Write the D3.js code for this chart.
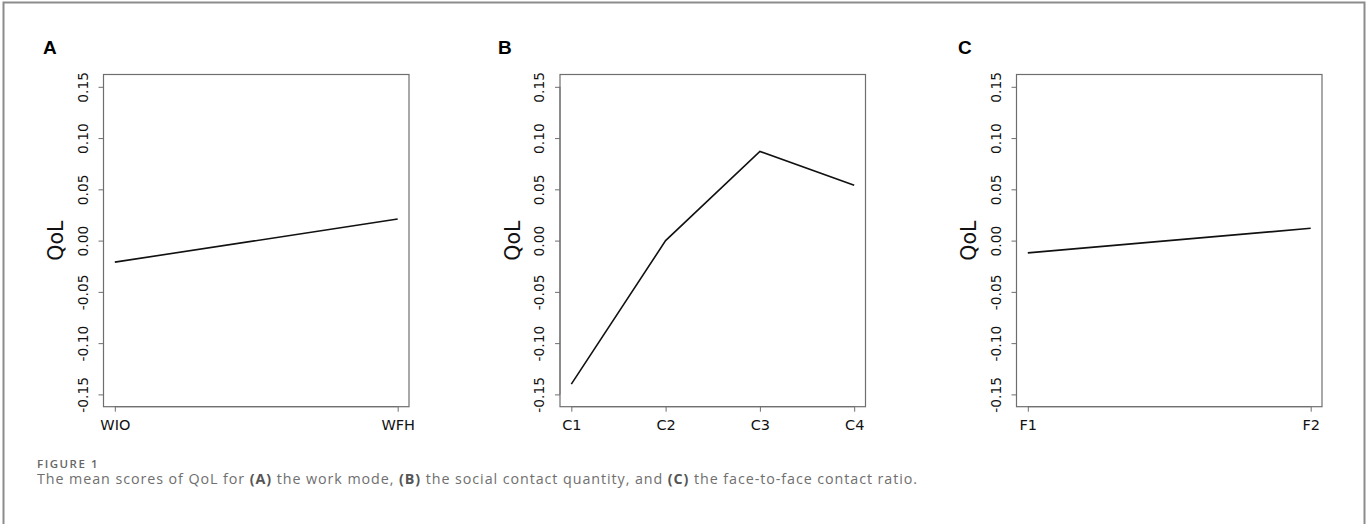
<!DOCTYPE html>
<html>
<head>
<meta charset="utf-8">
<script src="https://cdn.jsdelivr.net/npm/d3@7"></script>
<style>
  html, body { margin: 0; padding: 0; background: #fff; }
  svg { display: block; }
</style>
</head>
<body>
<div id="chart"></div>
<script>
// Chart values
const catsA = ["WIO", "WFH"];
const qolA = [-0.021, 0.021];

const catsB = ["C1", "C2", "C3", "C4"];
const qolB = [-0.140, 0.000, 0.087, 0.054];

const catsC = ["F1", "F2"];
const qolC = [-0.012, 0.012];

const yTicks = [-0.15, -0.10, -0.05, 0.00, 0.05, 0.10, 0.15];
const panelLetters = ["A", "B", "C"];

const svgWidth = 1367;
const svgHeight = 524;

const svg = d3
  .select("#chart")
  .append("svg")
  .attr("width", svgWidth)
  .attr("height", svgHeight);

// Outer frame (top, left, right only)
svg.append("path")
  .attr("d", `M3.5,${svgHeight} V2.5 H1364.5 V${svgHeight}`)
  .attr("fill", "none")
  .attr("stroke", "#8c8c8c")
  .attr("stroke-width", 2);

// plot boxes
const boxTop = 74.5;
const boxBottom = 406.7;
const boxWidth = 305.5;
const boxLefts = [103.5, 560, 1016.5];
const letterX = [43, 498, 958];

// R-style 4% extension on ylim c(-0.15, 0.15)
const yExt = 0.3 * 0.04;
const y = d3.scaleLinear()
  .domain([-0.15 - yExt, 0.15 + yExt])
  .range([boxBottom, boxTop]);

const panels = [
  { cats: catsA, vals: qolA },
  { cats: catsB, vals: qolB },
  { cats: catsC, vals: qolC },
];

// R prints a plain hyphen for negatives
const fmt = (d) => d.toFixed(2);

panels.forEach((p, i) => {
  const left = boxLefts[i];
  const n = p.cats.length;
  const ext = (n - 1) * 0.04;
  const x = d3.scaleLinear()
    .domain([1 - ext, n + ext])
    .range([left, left + boxWidth]);

  const g = svg.append("g");

  // panel letter
  svg.append("text")
    .attr("x", letterX[i])
    .attr("y", 54)
    .attr("font-family", "Liberation Sans, Arial, sans-serif")
    .attr("font-weight", "bold")
    .attr("font-size", 19)
    .attr("fill", "#000")
    .text(panelLetters[i]);

  // y axis
  const yAxis = d3.axisLeft(y)
    .tickValues(yTicks)
    .tickSize(5)
    .tickFormat(fmt);

  const yAxisG = g.append("g")
    .attr("transform", `translate(${left}, 0)`)
    .call(yAxis);

  yAxisG.select(".domain")
    .attr("d", `M0,${y(-0.15)}V${y(0.15)}`)
    .attr("stroke", "#6e6e6e");
  yAxisG.selectAll(".tick line").attr("stroke", "#6e6e6e");
  yAxisG.selectAll(".tick text")
    .attr("x", null)
    .attr("transform", "translate(-20.5, 0) rotate(-90)")
    .attr("text-anchor", "middle")
    .attr("dy", "0.36em")
    .attr("font-family", "DejaVu Sans, sans-serif")
    .attr("font-size", 13.8)
    .attr("fill", "#111");

  // x axis
  const xAxis = d3.axisBottom(x)
    .tickValues(d3.range(1, n + 1))
    .tickSize(5)
    .tickFormat((d) => p.cats[d - 1]);

  const xAxisG = g.append("g")
    .attr("transform", `translate(0, ${boxBottom})`)
    .call(xAxis);

  xAxisG.select(".domain")
    .attr("d", `M${x(1)},0H${x(n)}`)
    .attr("stroke", "#6e6e6e");
  xAxisG.selectAll(".tick line").attr("stroke", "#6e6e6e");
  xAxisG.selectAll(".tick text")
    .attr("y", 23.5)
    .attr("dy", null)
    .attr("font-family", "DejaVu Sans, sans-serif")
    .attr("font-size", 14.5)
    .attr("fill", "#111");

  // box
  g.append("rect")
    .attr("x", left)
    .attr("y", boxTop)
    .attr("width", boxWidth)
    .attr("height", boxBottom - boxTop)
    .attr("fill", "none")
    .attr("stroke", "#6e6e6e")
    .attr("stroke-width", 1.2);

  // y label
  g.append("text")
    .attr("transform", `translate(${left - 47.5}, ${(boxTop + boxBottom) / 2}) rotate(-90)`)
    .attr("text-anchor", "middle")
    .attr("dy", "0.36em")
    .attr("font-family", "DejaVu Sans, sans-serif")
    .attr("font-size", 20.5)
    .attr("fill", "#111")
    .text("QoL");

  // mean line
  const line = d3.line()
    .x((d, j) => x(j + 1))
    .y((d) => y(d));

  g.append("path")
    .datum(p.vals)
    .attr("d", line)
    .attr("fill", "none")
    .attr("stroke", "#111")
    .attr("stroke-width", 1.6);
});

// spread a text out so it spans the width seen in the figure
const fitWidth = (sel, target) => {
  const node = sel.node();
  const len = node.getComputedTextLength();
  const chars = node.textContent.length;
  sel.attr("letter-spacing", Math.max(0, (target - len) / chars));
};

// Caption
const figLabel = svg.append("text")
  .attr("x", 37)
  .attr("y", 468)
  .attr("font-family", "Open Sans, Lato, sans-serif")
  .attr("font-weight", 600)
  .attr("font-size", 11.5)
  .attr("fill", "#666")
  .text("FIGURE 1");
fitWidth(figLabel, 62);

const caption = svg.append("text")
  .attr("x", 37)
  .attr("y", 484)
  .attr("font-family", "Open Sans, Lato, sans-serif")
  .attr("font-size", 14.3)
  .attr("fill", "#6f6f6f");

const parts = [
  ["The mean scores of QoL for ", false],
  ["(A)", true],
  [" the work mode, ", false],
  ["(B)", true],
  [" the social contact quantity, and ", false],
  ["(C)", true],
  [" the face-to-face contact ratio.", false],
];

parts.forEach(([t, b]) => {
  caption.append("tspan")
    .attr("font-weight", b ? "bold" : "normal")
    .attr("fill", b ? "#555" : "#6f6f6f")
    .text(t);
});

fitWidth(caption, 881);
</script>
</body>
</html>
